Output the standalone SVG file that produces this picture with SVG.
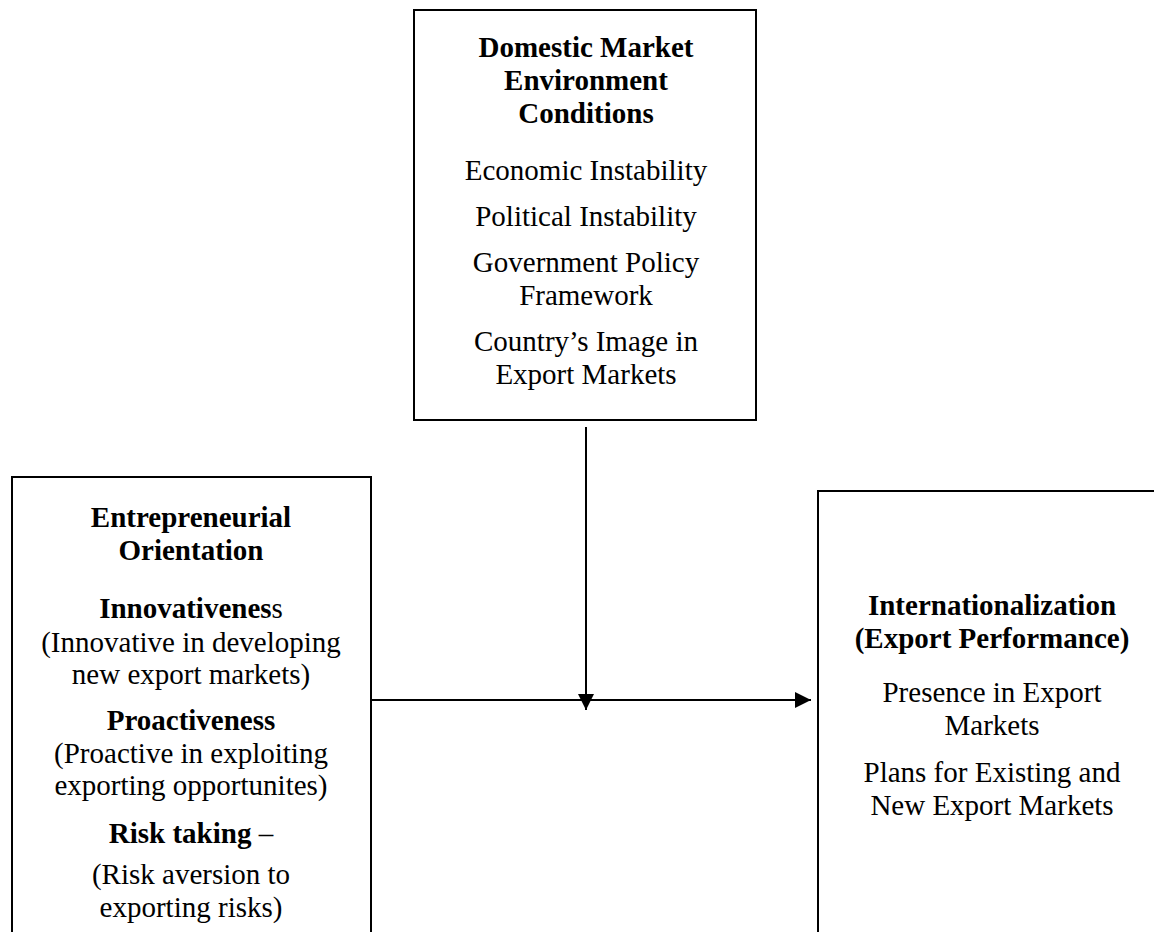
<svg xmlns="http://www.w3.org/2000/svg" width="1154" height="932" viewBox="0 0 1154 932">
<style>
.box{fill:#fff;stroke:#000;stroke-width:2}
text{font-family:"Liberation Serif","Times New Roman",serif;font-size:29px;fill:#000;text-anchor:middle}
.b{font-weight:bold}
.line{stroke:#000;stroke-width:2;fill:none}
</style>
<defs>
<marker id="arr" viewBox="0 0 16 16" refX="16" refY="8" markerWidth="16" markerHeight="16" markerUnits="userSpaceOnUse" orient="auto">
<path d="M0,0 L16,8 L0,16 Z" fill="#000"/>
</marker>
</defs>
<rect width="1154" height="932" fill="#fff"/>
<g id="domestic">
<rect class="box" x="414" y="10" width="342" height="410"/>
<text class="b" x="586" y="57">Domestic Market</text>
<text class="b" x="586" y="90">Environment</text>
<text class="b" x="586" y="123">Conditions</text>
<text x="586" y="180">Economic Instability</text>
<text x="586" y="226">Political Instability</text>
<text x="586" y="272">Government Policy</text>
<text x="586" y="305">Framework</text>
<text x="586" y="351">Country’s Image in</text>
<text x="586" y="384">Export Markets</text>
</g>
<g id="entrepreneurial">
<rect class="box" x="12" y="477" width="359" height="470"/>
<text class="b" x="191" y="527">Entrepreneurial</text>
<text class="b" x="191" y="560">Orientation</text>
<text x="191" y="618"><tspan class="b">Innovativenes</tspan>s</text>
<text x="191" y="652">(Innovative in developing</text>
<text x="191" y="684">new export markets)</text>
<text class="b" x="191" y="730">Proactiveness</text>
<text x="191" y="763">(Proactive in exploiting</text>
<text x="191" y="795">exporting opportunites)</text>
<text x="191" y="843"><tspan class="b">Risk taking</tspan> –</text>
<text x="191" y="884">(Risk aversion to</text>
<text x="191" y="917">exporting risks)</text>
</g>
<g id="internationalization">
<rect class="box" x="818" y="491" width="360" height="460"/>
<text class="b" x="992" y="615">Internationalization</text>
<text class="b" x="992" y="648">(Export Performance)</text>
<text x="992" y="702">Presence in Export</text>
<text x="992" y="735">Markets</text>
<text x="992" y="782">Plans for Existing and</text>
<text x="992" y="815">New Export Markets</text>
</g>
<g id="connectors">
<line class="line" x1="371" y1="700" x2="811" y2="700" marker-end="url(#arr)"/>
<line class="line" x1="586" y1="427" x2="586" y2="710" marker-end="url(#arr)"/>
</g>
</svg>
